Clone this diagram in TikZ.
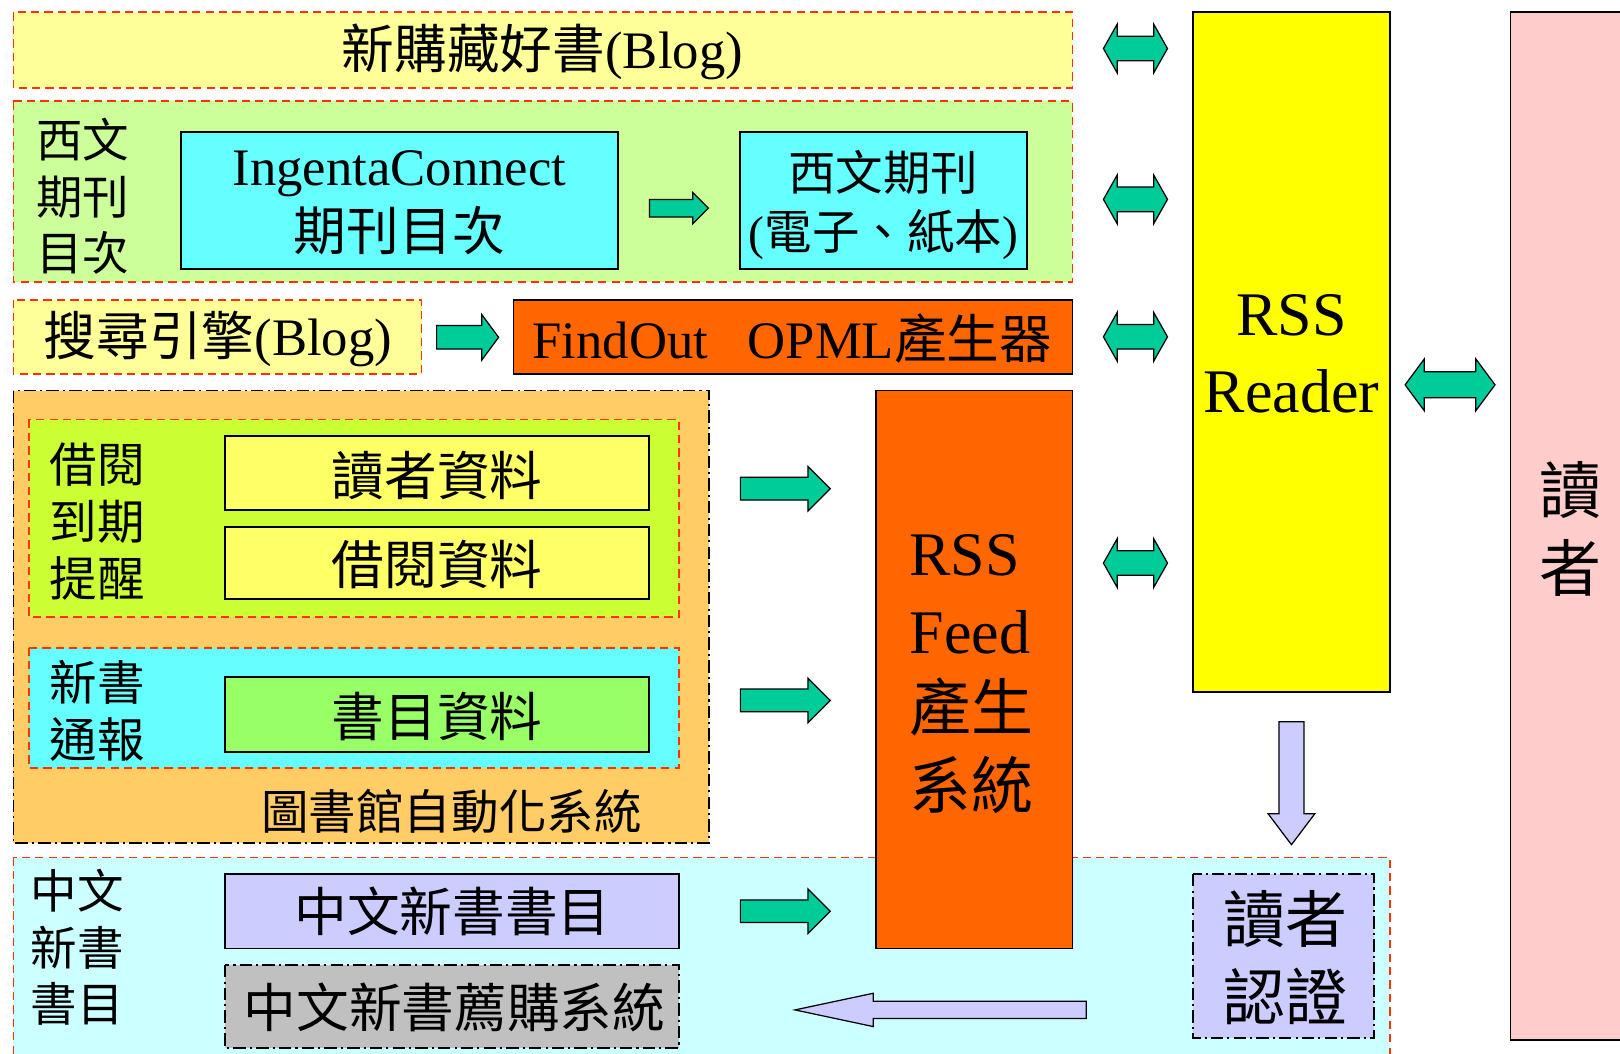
\documentclass[tikz,border=0pt]{standalone}
\usepackage{fontspec}
\setmainfont{Liberation Serif}
\newfontfamily\cjk{Noto Sans CJK TC}
\usetikzlibrary{shapes.arrows}

\begin{document}
\begin{tikzpicture}[x=0.5pt,y=0.5pt,yscale=-1,xscale=1,
	redbox/.style={draw={rgb, 255:red, 255; green, 51; blue, 0}, line width=0.9pt, dash pattern=on 4pt off 2.5pt},
	blackbox/.style={draw=black, line width=0.9pt},
	dotbox/.style={draw=black, line width=0.9pt, dash pattern=on 6pt off 2pt on 1pt off 2pt},
	txt/.style={inner sep=0pt, align=center},
	labelfont/.style={txt, font=\cjk\fontsize{22.5pt}{27.5pt}\selectfont},
	sidefont/.style={txt, font=\cjk\fontsize{23pt}{27.5pt}\selectfont},
	boxfont/.style={txt, font=\fontsize{25.5pt}{31.5pt}\selectfont},
	cjkboxfont/.style={txt, font=\cjk\fontsize{25.5pt}{31.5pt}\selectfont},
	bigfont/.style={txt, font=\fontsize{30pt}{37.5pt}\selectfont},
	cjkbigfont/.style={txt, font=\cjk\fontsize{30pt}{37.5pt}\selectfont},
	garrow/.style={single arrow, anchor=tail, draw=black, line width=0.6pt, fill={rgb, 255:red, 0; green, 204; blue, 153}},
	gdarrow/.style={double arrow, draw=black, line width=0.6pt, fill={rgb, 255:red, 0; green, 204; blue, 153}},
	larrow/.style={single arrow, anchor=tail, draw=black, line width=0.6pt, fill={rgb, 255:red, 204; green, 204; blue, 255}}]
		\useasboundingbox (0,0) rectangle (1568,1020);
		\clip (0,0) rectangle (1568,1020);
		\draw [redbox, fill={rgb, 255:red, 255; green, 255; blue, 153}] (13,12) rectangle (1038,85);
		\draw [redbox, fill={rgb, 255:red, 204; green, 255; blue, 153}] (13,98) rectangle (1038,273);
		\draw [blackbox, fill={rgb, 255:red, 102; green, 255; blue, 255}] (175,128) rectangle (598,260);
		\draw [blackbox, fill={rgb, 255:red, 102; green, 255; blue, 255}] (716,128) rectangle (994,260);
		\draw [redbox, fill={rgb, 255:red, 255; green, 255; blue, 153}] (13,290) rectangle (408,362);
		\draw [blackbox, fill={rgb, 255:red, 255; green, 102; blue, 0}] (497,290) rectangle (1038,362);
		\draw [dotbox, fill={rgb, 255:red, 255; green, 204; blue, 102}] (13,378) rectangle (686,816);
		\draw [redbox, fill={rgb, 255:red, 204; green, 255; blue, 51}] (28,406) rectangle (657,597);
		\draw [blackbox, fill={rgb, 255:red, 255; green, 255; blue, 102}] (218,422) rectangle (628,494);
		\draw [blackbox, fill={rgb, 255:red, 255; green, 255; blue, 102}] (218,510) rectangle (628,580);
		\draw [redbox, fill={rgb, 255:red, 102; green, 255; blue, 255}] (28,627) rectangle (657,743);
		\draw [blackbox, fill={rgb, 255:red, 153; green, 255; blue, 102}] (218,655) rectangle (628,728);
		\draw [redbox, fill={rgb, 255:red, 204; green, 255; blue, 255}] (13,830) rectangle (1345,1040);
		\draw [blackbox, fill={rgb, 255:red, 204; green, 204; blue, 255}] (218,846) rectangle (657,918);
		\draw [dotbox, fill={rgb, 255:red, 192; green, 192; blue, 192}] (218,934) rectangle (657,1014);
		\draw [blackbox, fill={rgb, 255:red, 255; green, 102; blue, 0}] (848,378) rectangle (1038,918);
		\draw [blackbox, fill={rgb, 255:red, 255; green, 255; blue, 0}] (1155,12) rectangle (1345,670);
		\draw [blackbox, fill={rgb, 255:red, 255; green, 204; blue, 204}] (1462,12) rectangle (1590,1007);
		\draw [dotbox, fill={rgb, 255:red, 204; green, 204; blue, 255}] (1155,846) rectangle (1330,1005);

		\draw (525,50) node [boxfont] (blogtxt) {{\cjk 新購藏好書}(Blog)};
		\draw (80,190) node [labelfont] (westlabel) {西文\\期刊\\目次};
		\draw (386.5,196.5) node [boxfont] (ingentatxt) {IngentaConnect\\{\cjk 期刊目次}};
		\draw (855,198.5) node [txt, font=\fontsize{23pt}{28.5pt}\selectfont] (westtxt) {{\cjk 西文期刊}\\({\cjk 電子、紙本})};
		\draw (211,328) node [boxfont] (searchtxt) {{\cjk 搜尋引擎}(Blog)};
		\draw (767,328) node [boxfont] (findouttxt) {FindOut\hspace{0.75em}OPML{\cjk 產生器}};
		\draw (94,505) node [sidefont] (loanlabel) {借閱\\到期\\提醒};
		\draw (423,460) node [cjkboxfont] (readertxt) {讀者資料};
		\draw (423,546) node [cjkboxfont] (loantxt) {借閱資料};
		\draw (94,688) node [sidefont] (newlabel) {新書\\通報};
		\draw (423,693) node [cjkboxfont] (bibliotxt) {書目資料};
		\draw (437,785) node [sidefont] (libsystxt) {圖書館自動化系統};
		\draw (75,917) node [labelfont] (cnlabel) {中文\\新書\\書目};
		\draw (438,882) node [cjkboxfont] (cnbibtxt) {中文新書書目};
		\draw (440,975) node [cjkboxfont] (recommendtxt) {中文新書薦購系統};
		\draw (880,652.5) node [bigfont, align=left, anchor=west] (feedtxt) {RSS\\Feed\\{\cjk 產生}\\{\cjk 系統}};
		\draw (1250,342.5) node [bigfont] (rreadertxt) {RSS\\Reader};
		\draw (1520,512) node [cjkbigfont] (usertxt) {讀\\者};
		\draw (1244,927) node [cjkbigfont] (authtxt) {讀者\\認證};

		\node [garrow, minimum height=28.5pt, inner sep=3.95pt, single arrow head extend=3.3pt, single arrow tip angle=90] (ingentaarrow) at (628,201.5) {};
		\node [garrow, minimum height=30pt, inner sep=5.4pt, single arrow head extend=5.4pt, single arrow tip angle=107] (searcharrow) at (422,326.5) {};
		\node [garrow, minimum height=43.5pt, inner sep=5.2pt, single arrow head extend=5.3pt, single arrow tip angle=90] (loanarrow) at (716,473) {};
		\node [garrow, minimum height=43.5pt, inner sep=5.2pt, single arrow head extend=5.3pt, single arrow tip angle=90] (newarrow) at (716,678) {};
		\node [garrow, minimum height=43.5pt, inner sep=5.2pt, single arrow head extend=5.3pt, single arrow tip angle=90] (cnarrow) at (716,882) {};
		\node [gdarrow, minimum height=31pt, inner sep=5.65pt, double arrow head extend=5.85pt, double arrow tip angle=121] (blogarrow) at (1099,47) {};
		\node [gdarrow, minimum height=31pt, inner sep=5.65pt, double arrow head extend=5.85pt, double arrow tip angle=121] (westarrow) at (1099,193) {};
		\node [gdarrow, minimum height=31pt, inner sep=5.65pt, double arrow head extend=5.85pt, double arrow tip angle=121] (findoutarrow) at (1099,326) {};
		\node [gdarrow, minimum height=31pt, inner sep=5.65pt, double arrow head extend=5.85pt, double arrow tip angle=121] (feedarrow) at (1099,545) {};
		\node [gdarrow, minimum height=43.5pt, inner sep=6pt, double arrow head extend=6.25pt, double arrow tip angle=107] (userarrow) at (1403.5,372.5) {};
		\node [larrow, shape border rotate=270, minimum height=59.5pt, inner sep=5.75pt, single arrow head extend=5.25pt, single arrow tip angle=74] (autharrow) at (1250,698) {};
		\node [larrow, shape border rotate=180, minimum height=141pt, inner sep=3.85pt, single arrow head extend=3.9pt, single arrow tip angle=24] (recommendarrow) at (1052,977.5) {};
\end{tikzpicture}
\end{document}
